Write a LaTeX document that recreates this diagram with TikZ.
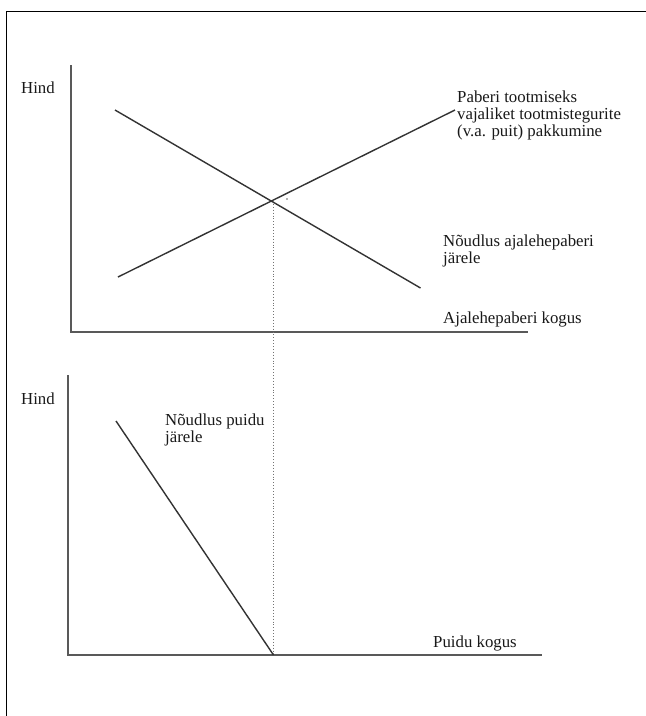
\documentclass[tikz,border=0pt]{standalone}
\usepackage{fontspec}
\setmainfont{Liberation Serif}
\begin{document}
\begin{tikzpicture}[x=1pt,y=-1pt,
  axisline/.style={line width=2pt,draw=black!65},
  curveline/.style={line width=1.4pt,draw=black!80},
  guide/.style={line width=0.9pt,draw=black!55,dotted},
  frameline/.style={line width=1.6pt,draw=black},
  lbl/.style={inner sep=0pt,font=\fontsize{16.8}{17}\selectfont,text=black!90,align=left,anchor=base west}]
\useasboundingbox (0,0) rectangle (646,716);
\fill[white] (0,0) rectangle (646,716);
% frame
\draw[frameline] (6.5,716) -- (6.5,11.5) -- (646,11.5);
% top chart
\coordinate (tyTop) at (70.5,65);
\coordinate (tOrig) at (70.5,332);
\coordinate (txEnd) at (528,332);
\draw[axisline] (tyTop) -- (tOrig) -- (txEnd);
\coordinate (dA) at (115,110);
\coordinate (dB) at (420.5,288);
\coordinate (sA) at (118,277);
\coordinate (sB) at (455,110);
\draw[curveline] (dA) -- (dB);
\draw[curveline] (sA) -- (sB);
\coordinate (eq) at (273.5,201);
\fill[black!60] (287,199) circle (0.8);
% bottom chart
\coordinate (byTop) at (68,375);
\coordinate (bOrig) at (68,655);
\coordinate (bxEnd) at (542,655);
\draw[axisline] (byTop) -- (bOrig) -- (bxEnd);
\coordinate (wA) at (116,421);
\coordinate (wB) at (273.5,655);
\draw[curveline] (wA) -- (wB);
% guide
\draw[guide] (eq) -- (wB);
% labels (base anchor of a multi-line node = last line's baseline)
\node[lbl] (hind1) at (21,93) {Hind};
\node[lbl] (supply) at (457,136) {Paberi tootmiseks\\vajaliket tootmistegurite\\(v.a. puit) pakkumine};
\node[lbl] (dpaper) at (443,263) {Nõudlus ajalehepaberi\\järele};
\node[lbl] (qpaper) at (443,323) {Ajalehepaberi kogus};
\node[lbl] (hind2) at (21,404) {Hind};
\node[lbl] (dwood) at (165,442.5) {Nõudlus puidu\\järele};
\node[lbl] (qwood) at (433,647) {Puidu kogus};
\end{tikzpicture}
\end{document}
